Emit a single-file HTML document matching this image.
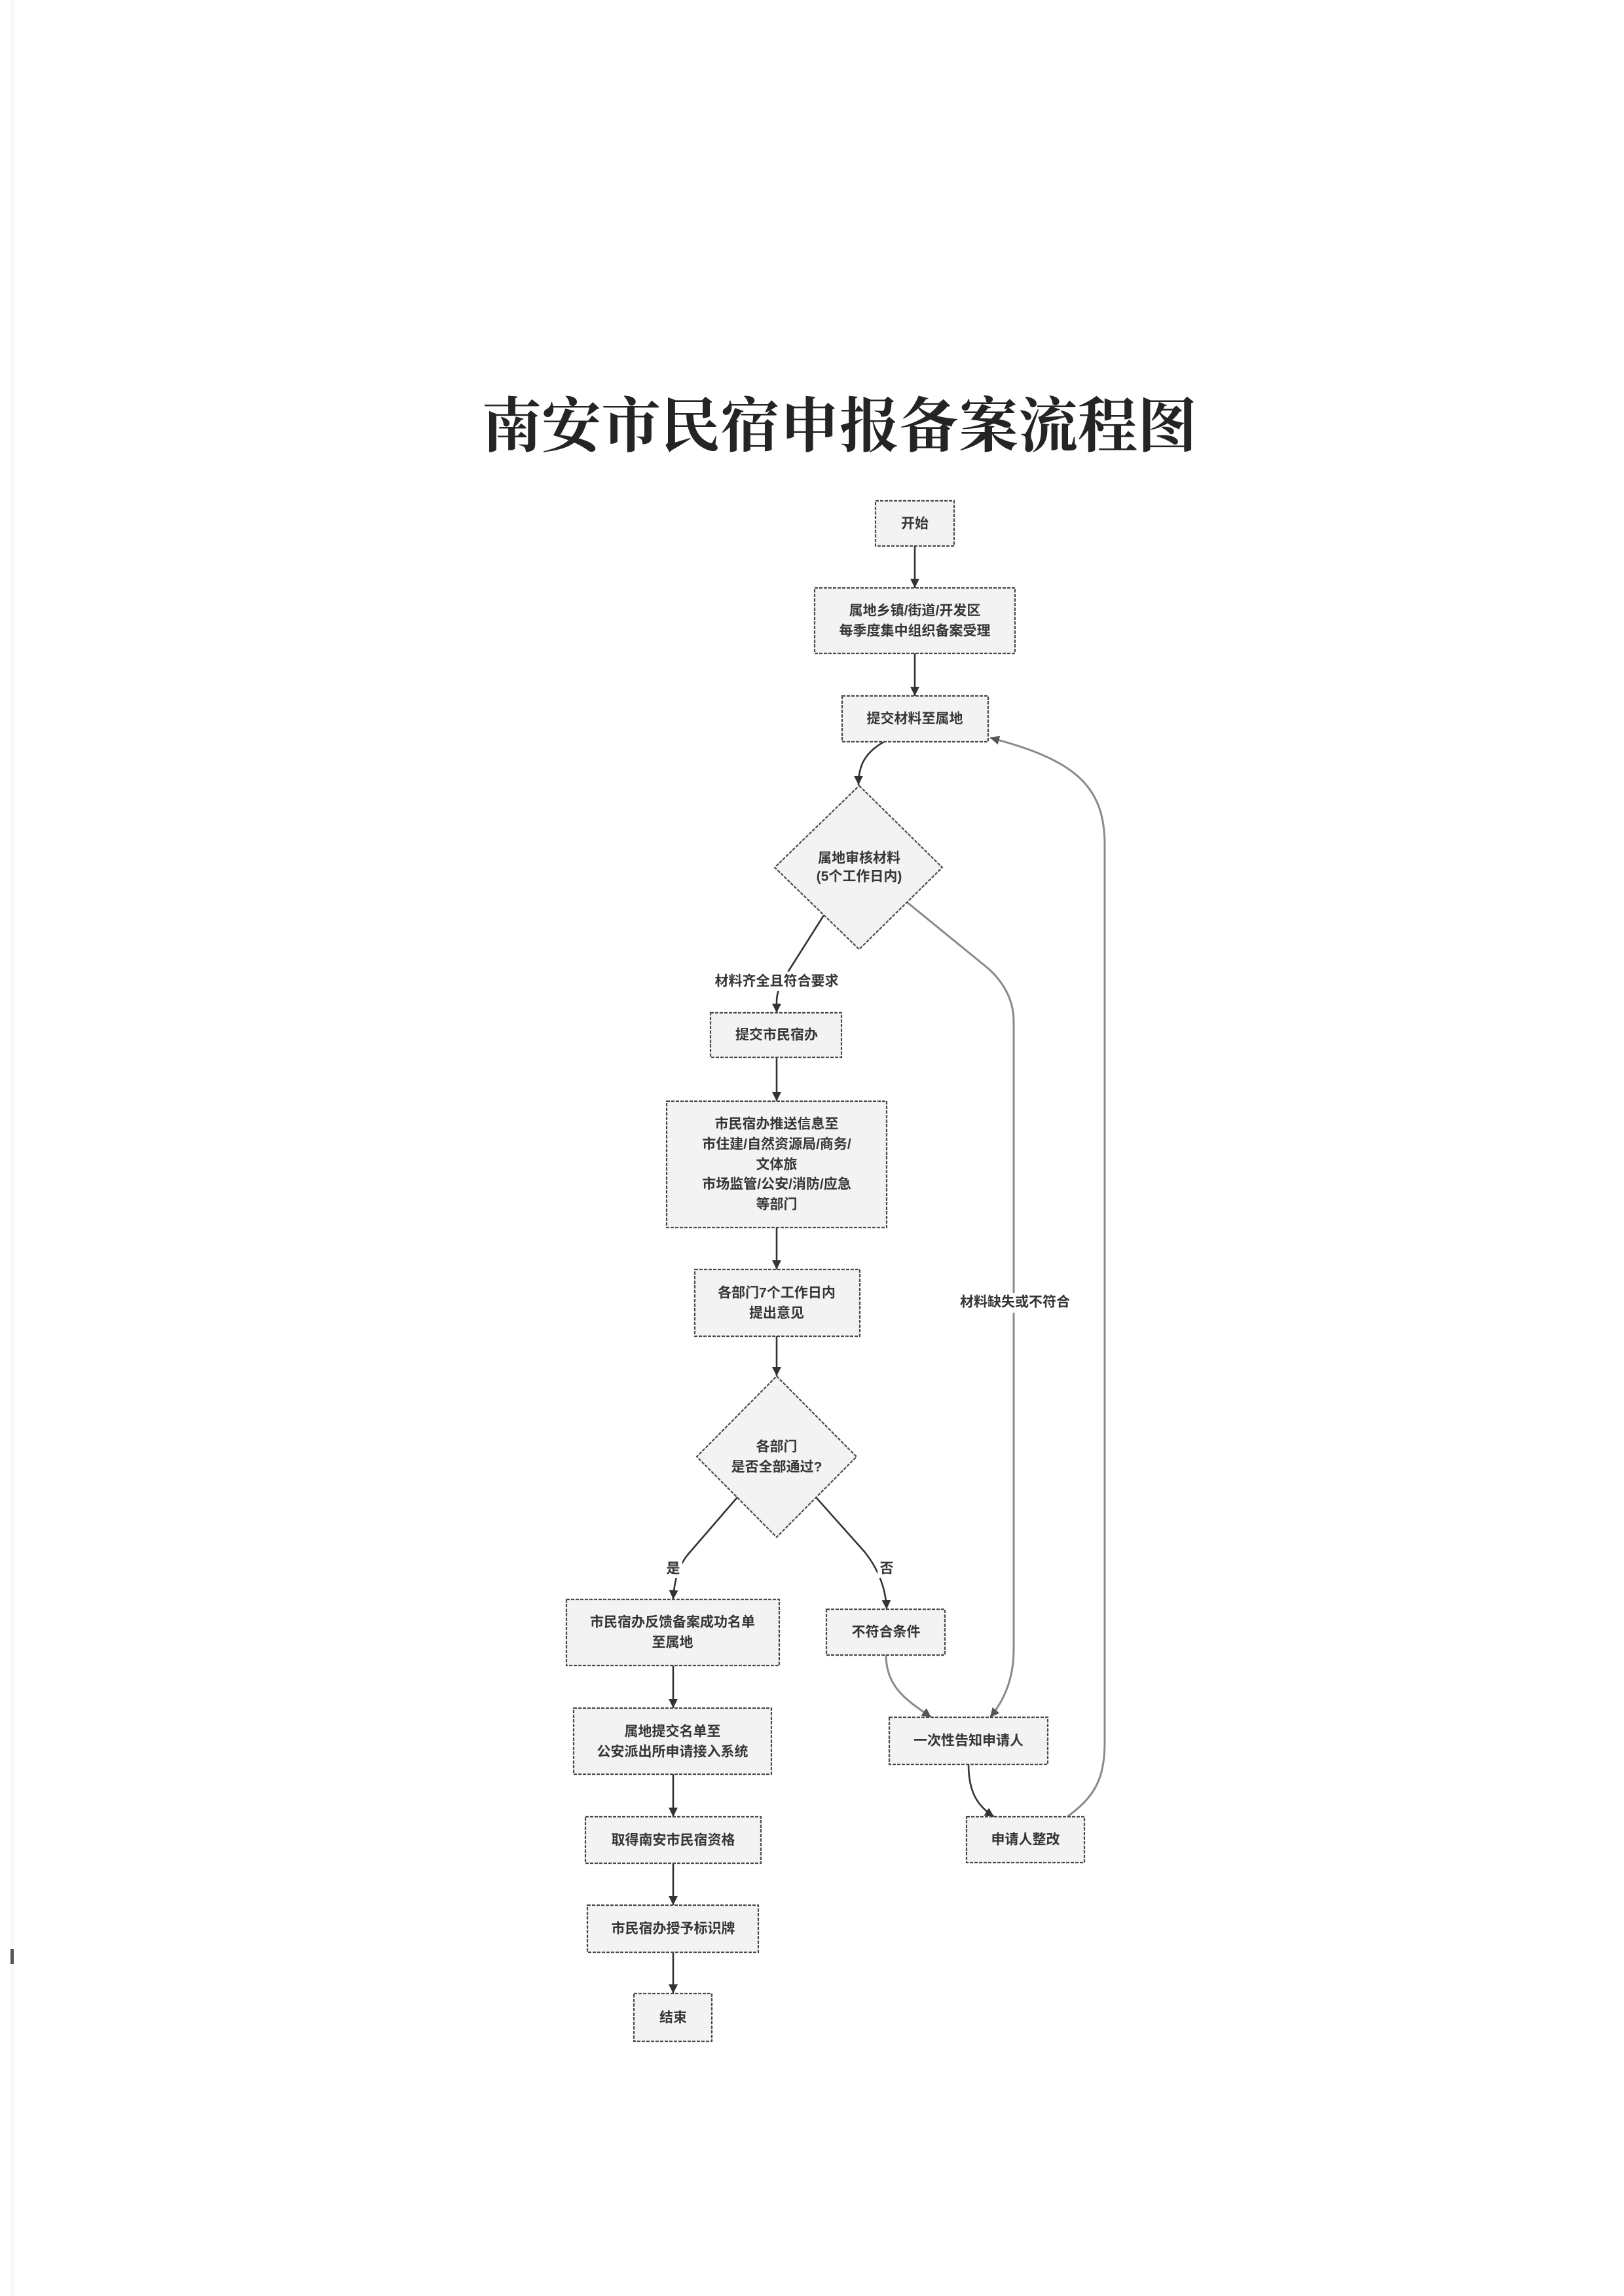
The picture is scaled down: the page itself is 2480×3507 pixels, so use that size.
<!DOCTYPE html>
<html>
<head>
<meta charset="utf-8">
<style>
  html,body{margin:0;padding:0;background:#fff;}
  body{width:2480px;height:3507px;overflow:hidden;position:relative;}
  svg{position:absolute;left:0;top:0;}
  .t{font-family:"Liberation Sans","Noto Sans CJK SC",sans-serif;font-size:21px;font-weight:bold;fill:#363636;text-anchor:middle;dominant-baseline:central;}
  .title{font-family:"Liberation Serif","Noto Serif CJK SC",serif;font-size:91px;font-weight:bold;fill:#242424;text-anchor:middle;}
</style>
</head>
<body>
<svg width="2480" height="3507" viewBox="0 0 2480 3507" xmlns="http://www.w3.org/2000/svg">
  <defs>
    <marker id="ad" viewBox="0 0 10 10" refX="10" refY="5" markerWidth="14" markerHeight="14" markerUnits="userSpaceOnUse" orient="auto">
      <path d="M0,0 L10,5 L0,10 z" fill="#333"/>
    </marker>
    <marker id="ag" viewBox="0 0 10 10" refX="10" refY="5" markerWidth="14" markerHeight="14" markerUnits="userSpaceOnUse" orient="auto">
      <path d="M0,0 L10,5 L0,10 z" fill="#555"/>
    </marker>
  </defs>

  <!-- faint scan edge + mark -->
  <rect x="16" y="0" width="6" height="3507" fill="#f8f8f8"/>
  <rect x="16" y="2977" width="5" height="23" fill="#555"/>

  <!-- Title -->
  <text class="title" x="1282" y="682">南安市民宿申报备案流程图</text>

  <!-- ========== connectors ========== -->
  <g fill="none" stroke="#333" stroke-width="2.6">
    <path d="M1397,834 L1397,898" marker-end="url(#ad)"/>
    <path d="M1397,998 L1397,1063" marker-end="url(#ad)"/>
    <path d="M1350,1133 C1320,1150 1311,1170 1311,1199" marker-end="url(#ad)"/>
    <path d="M1258,1398 L1203,1485 Q1186,1510 1186,1530 L1186,1547" marker-end="url(#ad)"/>
    <path d="M1186,1615 L1186,1682" marker-end="url(#ad)"/>
    <path d="M1186,1875 L1186,1939" marker-end="url(#ad)"/>
    <path d="M1186,2041 L1186,2102" marker-end="url(#ad)"/>
    <path d="M1126,2287 L1050,2375 Q1030,2400 1028,2443" marker-end="url(#ad)"/>
    <path d="M1246,2287 L1320,2370 Q1352,2410 1354,2458" marker-end="url(#ad)"/>
    <path d="M1479,2695 C1479,2740 1495,2760 1518,2775" marker-end="url(#ad)"/>
    <path d="M1028,2544 L1028,2609" marker-end="url(#ad)"/>
    <path d="M1028,2710 L1028,2775" marker-end="url(#ad)"/>
    <path d="M1028,2846 L1028,2910" marker-end="url(#ad)"/>
    <path d="M1028,2982 L1028,3045" marker-end="url(#ad)"/>
  </g>
  <g fill="none" stroke="#8a8a8a" stroke-width="3">
    <path d="M1385,1378 L1510,1480 Q1548,1515 1548,1560 L1548,2520 Q1548,2580 1512,2623" marker-end="url(#ag)"/>
    <path d="M1353,2528 C1353,2580 1390,2600 1422,2623" marker-end="url(#ag)"/>
    <path d="M1630,2775 C1670,2745 1687,2720 1687,2660 L1687,1290 C1687,1200 1640,1160 1512,1127" marker-end="url(#ag)"/>
  </g>

  <!-- ========== nodes ========== -->
  <g fill="#f3f3f3" stroke="#4a4a4a" stroke-width="2.2" stroke-dasharray="5 2">
    <rect x="1337" y="765" width="120" height="69"/>
    <rect x="1244" y="898" width="306" height="100"/>
    <rect x="1286" y="1063" width="223" height="70"/>
    <polygon points="1312,1200 1439,1325 1312,1450 1183,1325"/>
    <rect x="1085" y="1547" width="200" height="68"/>
    <rect x="1018" y="1682" width="336" height="193"/>
    <rect x="1061" y="1939" width="252" height="102"/>
    <polygon points="1186,2102 1308,2225 1186,2348 1064,2225"/>
    <rect x="865" y="2443" width="325" height="101"/>
    <rect x="876" y="2609" width="302" height="101"/>
    <rect x="894" y="2775" width="268" height="71"/>
    <rect x="897" y="2910" width="261" height="72"/>
    <rect x="968" y="3045" width="119" height="73"/>
    <rect x="1262" y="2458" width="181" height="70"/>
    <rect x="1358" y="2623" width="242" height="72"/>
    <rect x="1476" y="2775" width="180" height="70"/>
  </g>

  <!-- edge label backgrounds -->
  <g fill="#fff">
    <rect x="1090" y="1484" width="190" height="30"/>
    <rect x="1464" y="1975" width="172" height="30"/>
    <rect x="1014" y="2382" width="28" height="28"/>
    <rect x="1340" y="2382" width="28" height="28"/>
  </g>

  <!-- ========== text ========== -->
  <text class="t" x="1397" y="800">开始</text>
  <text class="t" x="1397" y="933">属地乡镇/街道/开发区</text>
  <text class="t" x="1397" y="964">每季度集中组织备案受理</text>
  <text class="t" x="1397" y="1098">提交材料至属地</text>
  <text class="t" x="1312" y="1311">属地审核材料</text>
  <text class="t" x="1312" y="1339">(5个工作日内)</text>
  <text class="t" x="1186" y="1499">材料齐全且符合要求</text>
  <text class="t" x="1186" y="1581">提交市民宿办</text>
  <text class="t" x="1186" y="1717">市民宿办推送信息至</text>
  <text class="t" x="1186" y="1748">市住建/自然资源局/商务/</text>
  <text class="t" x="1186" y="1779">文体旅</text>
  <text class="t" x="1186" y="1809">市场监管/公安/消防/应急</text>
  <text class="t" x="1186" y="1840">等部门</text>
  <text class="t" x="1186" y="1975">各部门7个工作日内</text>
  <text class="t" x="1186" y="2006">提出意见</text>
  <text class="t" x="1186" y="2210">各部门</text>
  <text class="t" x="1186" y="2241">是否全部通过?</text>
  <text class="t" x="1028" y="2396">是</text>
  <text class="t" x="1354" y="2396">否</text>
  <text class="t" x="1550" y="1989">材料缺失或不符合</text>
  <text class="t" x="1027" y="2478">市民宿办反馈备案成功名单</text>
  <text class="t" x="1027" y="2509">至属地</text>
  <text class="t" x="1027" y="2645">属地提交名单至</text>
  <text class="t" x="1027" y="2676">公安派出所申请接入系统</text>
  <text class="t" x="1028" y="2811">取得南安市民宿资格</text>
  <text class="t" x="1028" y="2946">市民宿办授予标识牌</text>
  <text class="t" x="1028" y="3082">结束</text>
  <text class="t" x="1353" y="2493">不符合条件</text>
  <text class="t" x="1479" y="2659">一次性告知申请人</text>
  <text class="t" x="1566" y="2810">申请人整改</text>
</svg>
</body>
</html>
